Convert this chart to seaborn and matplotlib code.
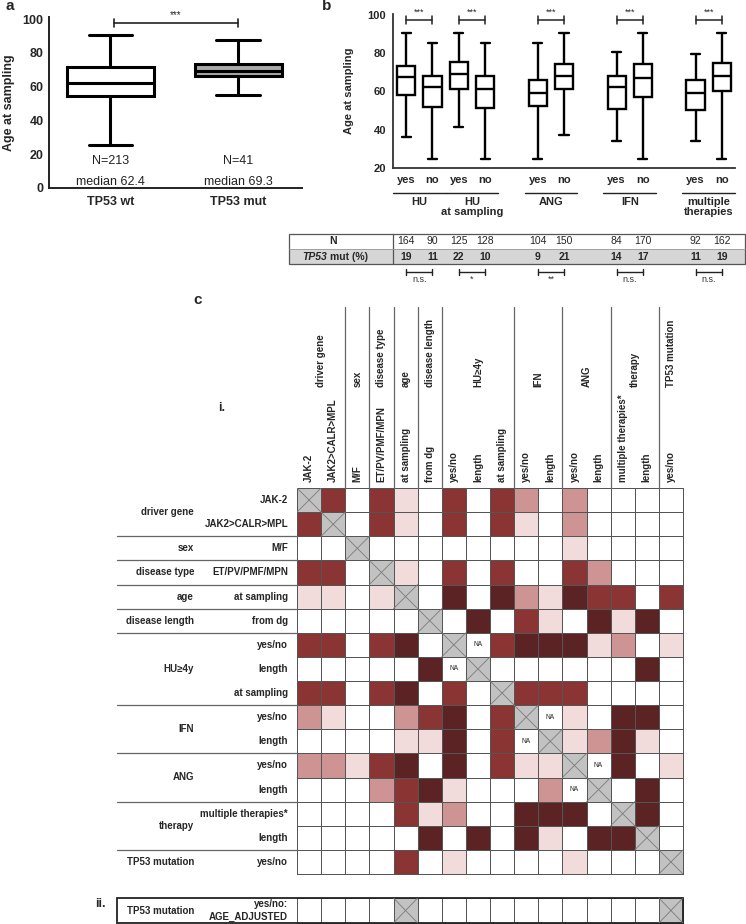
import numpy as np
import pandas as pd
import matplotlib
matplotlib.use("Agg")
import matplotlib.pyplot as plt
import seaborn as sns
from matplotlib.colors import ListedColormap
from matplotlib.patches import Rectangle

sns.set_style("white")
plt.rcParams["font.family"] = ["Liberation Sans", "DejaVu Sans"]

W, H = 746, 924

# ---- panel a: five-number summaries
a_groups = ["TP53 wt", "TP53 mut"]
a_lo = [25.4, 55.2]
a_q1 = [54.6, 66.5]
a_med = [62.4, 69.3]
a_q3 = [71.4, 73.6]
a_hi = [90.7, 87.4]
a_n = [213, 41]

# ---- panel b
b_boxes = ["HU yes", "HU no", "HUs yes", "HUs no", "ANG yes", "ANG no",
           "IFN yes", "IFN no", "MT yes", "MT no"]
b_order = ["HU yes", "HU no", "HUs yes", "HUs no", "gap1", "ANG yes", "ANG no",
           "gap2", "IFN yes", "IFN no", "gap3", "MT yes", "MT no"]
b_lo = [36.2, 24.9, 41.2, 24.9, 24.9, 37.0, 34.1, 24.9, 34.1, 24.9]
b_q1 = [57.9, 51.8, 61.2, 51.3, 52.2, 61.2, 51.1, 57.0, 50.4, 60.5]
b_med = [67.5, 62.3, 69.2, 61.2, 59.1, 68.3, 62.3, 66.8, 59.1, 68.2]
b_q3 = [73.4, 68.2, 75.5, 68.0, 66.1, 74.4, 68.2, 74.4, 66.1, 74.8]
b_hi = [90.4, 85.6, 90.4, 85.6, 85.6, 90.4, 80.5, 90.4, 79.5, 90.4]
b_ticklabels = ["yes", "no"] * 5
b_group_labels = ["HU", "HU\nat sampling", "ANG", "IFN", "multiple\ntherapies"]
b_n = [164, 90, 125, 128, 104, 150, 84, 170, 92, 162]
b_tp53 = [19, 11, 22, 10, 9, 21, 14, 17, 11, 19]
b_sig_top = ["***"] * 5
b_sig_bottom = ["n.s.", "*", "**", "n.s.", "n.s."]

# ---- panel c: -2 = NA, -1 = diagonal, 0..4 = association strength
c_groups = ["driver gene", "sex", "disease type", "age", "disease length",
            "HU\u22654y", "IFN", "ANG", "therapy", "TP53 mutation"]
c_group_span = [(0, 2), (2, 3), (3, 4), (4, 5), (5, 6), (6, 9), (9, 11),
                (11, 13), (13, 15), (15, 16)]
c_labels = ["JAK-2", "JAK2>CALR>MPL", "M/F", "ET/PV/PMF/MPN", "at sampling",
            "from dg", "yes/no", "length", "at sampling", "yes/no", "length",
            "yes/no", "length", "multiple therapies*", "length", "yes/no"]
c_matrix = [
    [-1, 3, 0, 3, 1, 0, 3, 0, 3, 2, 0, 2, 0, 0, 0, 0],
    [3, -1, 0, 3, 1, 0, 3, 0, 3, 1, 0, 2, 0, 0, 0, 0],
    [0, 0, -1, 0, 0, 0, 0, 0, 0, 0, 0, 1, 0, 0, 0, 0],
    [3, 3, 0, -1, 1, 0, 3, 0, 3, 0, 0, 3, 2, 0, 0, 0],
    [1, 1, 0, 1, -1, 0, 4, 0, 4, 2, 1, 4, 3, 3, 0, 3],
    [0, 0, 0, 0, 0, -1, 0, 4, 0, 3, 1, 0, 4, 1, 4, 0],
    [3, 3, 0, 3, 4, 0, -1, -2, 3, 4, 4, 4, 1, 2, 0, 1],
    [0, 0, 0, 0, 0, 4, -2, -1, 0, 0, 0, 0, 0, 0, 4, 0],
    [3, 3, 0, 3, 4, 0, 3, 0, -1, 3, 3, 3, 0, 0, 0, 0],
    [2, 1, 0, 0, 2, 3, 4, 0, 3, -1, -2, 1, 0, 4, 4, 0],
    [0, 0, 0, 0, 1, 1, 4, 0, 3, -2, -1, 1, 2, 4, 1, 0],
    [2, 2, 1, 3, 4, 0, 4, 0, 3, 1, 1, -1, -2, 4, 0, 1],
    [0, 0, 0, 2, 3, 4, 1, 0, 0, 0, 2, -2, -1, 0, 4, 0],
    [0, 0, 0, 0, 3, 1, 2, 0, 0, 4, 4, 4, 0, -1, 4, 0],
    [0, 0, 0, 0, 0, 4, 0, 4, 0, 4, 1, 0, 4, 4, -1, 0],
    [0, 0, 0, 0, 3, 0, 1, 0, 0, 0, 0, 1, 0, 0, 0, -1],
]
c_adjusted = [[0, 0, 0, 0, -1, 0, 0, 0, 0, 0, 0, 0, 0, 0, 0, -1]]

cmap = ListedColormap(["white", "#c2c2c2", "white", "#f1dcdb",
                       "#cd9493", "#8a3434", "#5b2323"])

fig = plt.figure(figsize=(W / 100, H / 100), dpi=100)

# ================= panel a =================
axa = fig.add_axes([49 / W, 1 - 188 / H, 253 / W, 171 / H])
dfa = pd.DataFrame({"grp": np.repeat(a_groups, 5),
                    "age": np.column_stack([a_lo, a_q1, a_med, a_q3, a_hi]).ravel()})
sns.boxplot(data=dfa, x="grp", y="age", hue="grp", order=a_groups,
            palette={"TP53 wt": "white", "TP53 mut": "#a8a8a8"}, saturation=1,
            whis=np.inf, width=0.68, linecolor="black", linewidth=2.2,
            legend=False, ax=axa)
axa.set_xlim(-0.48, 1.5)
axa.set_ylim(0, 101.2)
axa.set_yticks([0, 20, 40, 60, 80, 100])
axa.tick_params(axis="both", length=0, labelsize=9)
axa.tick_params(axis="y", pad=4)
axa.tick_params(axis="x", pad=6)
for lab in axa.get_xticklabels() + axa.get_yticklabels():
    lab.set_fontweight("bold")
axa.set_xlabel("")
axa.set_ylabel("Age at sampling", fontsize=9, fontweight="bold")
axa.yaxis.set_label_coords(-0.135, 0.5)
sns.despine(ax=axa)
for s in ["left", "bottom"]:
    axa.spines[s].set_linewidth(1.4)
    axa.spines[s].set_color("#222222")
for i, (n, m) in enumerate(zip(a_n, a_med)):
    axa.text(i, 15.8, f"N={n}", ha="center", va="center", fontsize=9, color="#222222")
    axa.text(i, 3.4, f"median {m}", ha="center", va="center", fontsize=9, color="#222222")
axa.plot([0.03, 1.0], [97.6, 97.6], color="#222222", lw=1.2, clip_on=False)
for xx in [0.03, 1.0]:
    axa.plot([xx, xx], [95.3, 100.3], color="#222222", lw=1.2, clip_on=False)
axa.text(0.515, 102.6, "***", ha="center", va="center", fontsize=7)

# ================= panel b =================
axb = fig.add_axes([393 / W, 1 - 168 / H, 342 / W, 154 / H])
dfb = pd.DataFrame({"box": np.repeat(b_boxes, 5),
                    "age": np.column_stack([b_lo, b_q1, b_med, b_q3, b_hi]).ravel()})
sns.boxplot(data=dfb, x="box", y="age", order=b_order, color="white",
            saturation=1, whis=np.inf, width=0.69, linecolor="black",
            linewidth=1.7, ax=axb)
pos = [b_order.index(b) for b in b_boxes]
axb.set_xlim(-0.5, 12.5)
axb.set_ylim(20, 100.5)
axb.set_yticks([20, 40, 60, 80, 100])
axb.set_xticks(pos)
axb.set_xticklabels(b_ticklabels)
axb.tick_params(axis="both", length=0, labelsize=8)
axb.tick_params(axis="y", pad=5)
axb.tick_params(axis="x", pad=5)
for lab in axb.get_xticklabels() + axb.get_yticklabels():
    lab.set_fontweight("bold")
axb.set_xlabel("")
axb.set_ylabel("Age at sampling", fontsize=8, fontweight="bold")
axb.yaxis.set_label_coords(-0.115, 0.5)
sns.despine(ax=axb)
for s in ["left", "bottom"]:
    axb.spines[s].set_linewidth(1.3)
    axb.spines[s].set_color("#333333")
trb = axb.get_xaxis_transform()
for k in range(5):
    x0, x1 = pos[2 * k], pos[2 * k + 1]
    axb.plot([x0, x1], [97.4, 97.4], color="#222222", lw=1.1, clip_on=False)
    for xx in [x0, x1]:
        axb.plot([xx, xx], [95.4, 99.6], color="#222222", lw=1.1, clip_on=False)
    axb.text((x0 + x1) / 2, 101.2, b_sig_top[k], ha="center", va="center", fontsize=6.5)
    axb.plot([x0 - 0.5, x1 + 0.5], [-0.162, -0.162], color="#222222", lw=1.0,
             transform=trb, clip_on=False)
    axb.text((x0 + x1) / 2, -0.19, b_group_labels[k], ha="center", va="top",
             fontsize=8, fontweight="bold", transform=trb, linespacing=1.0)

# table under panel b
axt = fig.add_axes([393 / W, 1 - 290 / H, 342 / W, 60 / H])
axt.set_xlim(-0.5, 12.5)
axt.set_ylim(290, 230)
axt.axis("off")


def tx(px):
    return -0.5 + (px - 393) / (342 / 13)


axt.add_patch(Rectangle((tx(289), 249), tx(745) - tx(289), 15, fc="#d6d6d6",
                        ec="none", clip_on=False))
axt.add_patch(Rectangle((tx(289), 234), tx(745) - tx(289), 30, fill=False,
                        ec="#555555", lw=0.9, clip_on=False))
axt.plot([tx(393), tx(393)], [234, 264], color="#555555", lw=0.9, clip_on=False)
axt.plot([tx(289), tx(745)], [249, 249], color="#999999", lw=0.6, clip_on=False)
axt.text(tx(333), 241.5, "N", ha="center", va="center", fontsize=7.5, fontweight="bold")
axt.text(tx(327), 256.5, "TP53", ha="right", va="center", fontsize=7.5,
         fontweight="bold", fontstyle="italic")
axt.text(tx(330), 256.5, "mut (%)", ha="left", va="center", fontsize=7.5, fontweight="bold")
for i, p in enumerate(pos):
    axt.text(p, 241.5, str(b_n[i]), ha="center", va="center", fontsize=7.5)
    axt.text(p, 256.5, str(b_tp53[i]), ha="center", va="center", fontsize=7.5,
             fontweight="bold")
for k in range(5):
    x0, x1 = pos[2 * k], pos[2 * k + 1]
    axt.plot([x0, x1], [272, 272], color="#222222", lw=1.0, clip_on=False)
    for xx in [x0, x1]:
        axt.plot([xx, xx], [269, 275], color="#222222", lw=1.0, clip_on=False)
    axt.text((x0 + x1) / 2, 279.5, b_sig_bottom[k], ha="center", va="center",
             fontsize=6.5, color="#333333")

# ================= panel c =================
axm = fig.add_axes([297 / W, 1 - 874 / H, 386 / W, 386 / H])
sns.heatmap(np.array(c_matrix), cmap=cmap, vmin=-2.5, vmax=4.5, cbar=False,
            linewidths=0.7, linecolor="#555555", xticklabels=False,
            yticklabels=False, ax=axm)
axm.collections[0].set_clip_on(False)


def mark_cells(ax, mat):
    for r, row in enumerate(mat):
        for c, v in enumerate(row):
            if v == -1:
                ax.plot([c, c + 1], [r, r + 1], color="#7a7a7a", lw=0.6)
                ax.plot([c + 1, c], [r, r + 1], color="#7a7a7a", lw=0.6)
            elif v == -2:
                ax.text(c + 0.5, r + 0.5, "NA", ha="center", va="center", fontsize=4.8)


mark_cells(axm, c_matrix)

cell = 386 / 16


def cx(px):
    return (px - 297) / cell


def cy(py):
    return (py - 488) / cell


sep_color = "#666666"
for (g, (s, e)) in zip(c_groups, c_group_span):
    # row labels
    axm.text(cx(194), (s + e) / 2, g, ha="right", va="center", fontsize=7,
             fontweight="bold")
    # column group labels
    axm.text((s + e) / 2, cy(387), g, rotation=90, ha="center", va="bottom",
             fontsize=7, fontweight="bold")
    if e < 16:
        axm.plot([cx(117), 0], [e, e], color=sep_color, lw=0.9, clip_on=False)
        axm.plot([e, e], [cy(307), 0], color=sep_color, lw=0.9, clip_on=False)
for i, lab in enumerate(c_labels):
    axm.text(cx(288), i + 0.5, lab, ha="right", va="center", fontsize=7,
             fontweight="bold")
    axm.text(i + 0.5, -0.25, lab, rotation=90, ha="center", va="bottom",
             fontsize=7, fontweight="bold")

# panel c ii
axi = fig.add_axes([297 / W, 1 - 923 / H, 386 / W, 25 / H])
sns.heatmap(np.array(c_adjusted), cmap=cmap, vmin=-2.5, vmax=4.5, cbar=False,
            linewidths=0.7, linecolor="#555555", xticklabels=False,
            yticklabels=False, ax=axi)
axi.collections[0].set_clip_on(False)
mark_cells(axi, c_adjusted)
axi.add_patch(Rectangle((cx(117), 0), 16 - cx(117), 1, fill=False, ec="#222222",
                        lw=1.3, clip_on=False))
axi.text(cx(194), 0.5, "TP53 mutation", ha="right", va="center", fontsize=7,
         fontweight="bold")
axi.text(cx(288), 0.25, "yes/no:", ha="right", va="center", fontsize=7,
         fontweight="bold")
axi.text(cx(288), 0.74, "AGE_ADJUSTED", ha="right", va="center", fontsize=7,
         fontweight="bold")

# panel letters
fig.text(5 / W, 1 - 6 / H, "a", fontsize=11, fontweight="bold", va="center")
fig.text(322 / W, 1 - 6 / H, "b", fontsize=11, fontweight="bold", va="center")
fig.text(193 / W, 1 - 300 / H, "c", fontsize=11, fontweight="bold", va="center")
fig.text(218 / W, 1 - 408 / H, "i.", fontsize=9, fontweight="bold", va="center")
fig.text(95 / W, 1 - 904 / H, "ii.", fontsize=9, fontweight="bold", va="center")

fig.savefig("out.png", dpi=100)
